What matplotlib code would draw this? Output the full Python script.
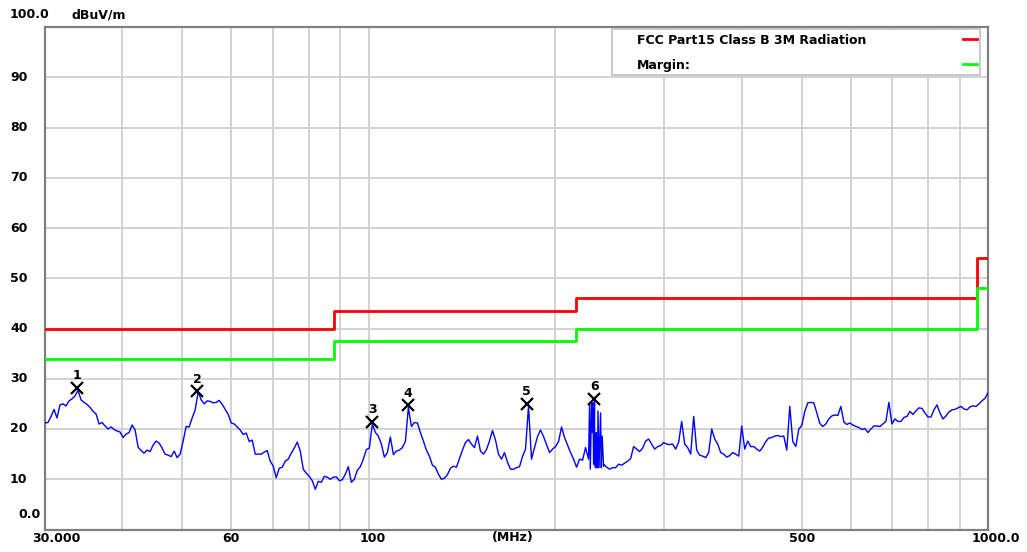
import numpy as np
import matplotlib
matplotlib.use("Agg")
import matplotlib.pyplot as plt
import matplotlib.transforms as mtransforms
from matplotlib.patches import Rectangle
from matplotlib.lines import Line2D

# ---------------- data ----------------
f_start, f_stop = 30.0, 1000.0   # sweep range (MHz), log sweep

trace_levels = [
    # 30 MHz ...
    21.2, 21.3, 22.5, 23.9, 22.2, 24.8, 25.0, 24.6, 25.6, 26.0, 26.6, 27.7, 25.8, 25.3, 24.9,
    24.3, 23.5, 23.0, 21.0, 21.3, 20.6, 20.0, 20.4, 19.9, 19.6, 19.4, 18.3, 19.0, 19.3, 20.8,
    19.8, 16.4, 15.7, 15.2, 15.8, 15.5, 16.8, 17.6, 17.2, 16.2, 15.0, 14.8, 14.5, 15.6, 14.3,
    # ~50 MHz ...
    15.0, 17.6, 20.5, 20.4, 22.2, 23.8, 27.4, 25.8, 25.0, 25.6, 25.5, 25.2, 25.3, 25.7, 24.9,
    23.9, 22.9, 21.2, 21.0, 20.4, 19.8, 18.9, 19.2, 17.5, 17.8, 15.0, 15.0, 15.0, 15.4, 15.7,
    13.6, 12.6, 10.3, 12.2, 12.4, 13.6, 14.0, 15.2, 16.2, 17.4, 15.6, 12.0, 11.2, 10.6, 9.7,
    # ~85 MHz ...
    8.0, 9.6, 9.4, 10.6, 10.4, 10.0, 10.4, 10.5, 9.7, 9.9, 11.0, 12.5, 9.4, 10.0, 11.8,
    12.5, 14.0, 15.9, 16.2, 21.0, 19.3, 18.6, 17.0, 14.4, 15.3, 18.4, 14.9, 15.6, 15.8, 16.3,
    17.5, 24.3, 20.5, 21.3, 21.2, 19.3, 17.6, 15.8, 14.6, 12.8, 12.4, 11.0, 10.0, 10.2, 10.9,
    # ~140 MHz ...
    12.2, 12.6, 12.4, 14.1, 15.8, 17.3, 17.9, 17.0, 16.3, 18.6, 15.6, 15.0, 15.9, 17.6, 19.7,
    17.8, 15.0, 14.0, 15.3, 13.4, 12.0, 12.0, 12.3, 12.5, 14.5, 16.0, 24.5, 14.0, 16.3, 18.5,
    19.8, 18.5, 16.9, 15.3, 16.0, 16.5, 17.5, 20.4, 18.3, 16.8, 15.3, 14.0, 12.4, 14.0, 13.8,
    # ~225 MHz ...
    16.3, 14.0, 25.2, 13.0, 12.3, 23.2, 13.0, 12.4, 12.0, 12.3, 12.3, 13.0, 12.8, 13.2, 13.6,
    14.1, 16.5, 16.0, 15.5, 16.2, 17.6, 18.0, 17.0, 16.0, 16.5, 16.7, 17.3, 17.0, 16.9, 17.0,
    16.0, 17.4, 21.5, 17.0, 16.3, 15.0, 22.5, 15.8, 14.8, 14.6, 14.3, 15.3, 20.0, 18.0, 17.0,
    # ~360 MHz ...
    15.3, 15.0, 14.4, 14.7, 15.3, 15.0, 14.6, 20.6, 16.0, 17.6, 16.5, 16.5, 16.0, 15.6, 16.4,
    17.5, 18.2, 18.3, 18.6, 18.7, 18.5, 18.6, 15.8, 24.5, 17.5, 16.5, 20.0, 20.7, 23.5, 25.2,
    25.3, 25.2, 23.2, 21.1, 20.5, 21.0, 22.0, 22.6, 22.8, 22.7, 24.5, 21.4, 20.9,
    # ~600 MHz ... 1000 MHz
    21.2, 20.8, 20.5, 20.3, 19.9, 20.1, 19.3, 20.0, 20.6, 20.6, 20.5, 21.0, 21.5, 25.3, 21.0,
    22.0, 21.5, 21.5, 22.3, 22.5, 23.5, 22.9, 23.6, 24.2, 24.1, 23.2, 22.4, 22.4, 23.8, 24.8,
    23.2, 22.0, 22.6, 23.4, 23.8, 23.9, 24.2, 24.5, 24.0, 23.8, 24.4, 24.6, 24.5, 25.0, 25.6,
    26.1, 27.2,
]

# narrow comb of spurious lines near marker 6
spike_freqs = [227.3, 227.9, 229.6, 230.2, 230.7, 231.5, 232.4, 233.0, 233.6, 234.5,
               235.4, 237.4, 238.2, 239.4]
spike_levels = [25.2, 12.0, 19.3, 25.2, 13.0, 25.4, 12.3, 19.3, 12.3, 23.6,
                12.3, 12.3, 18.6, 12.6]

limit_freqs = [30, 88, 216, 960, 1000]
limit_levels = [40, 43.5, 46, 54, 54]
margin_levels = [34, 37.5, 40, 48, 48]

marker_ids = ["1", "2", "3", "4", "5", "6"]
marker_freqs = [33.8, 52.8, 101.3, 115.7, 180.0, 231.2]
marker_levels = [28.2, 27.5, 21.4, 24.7, 25.0, 26.0]

y_tick_values = [10, 20, 30, 40, 50, 60, 70, 80, 90]
x_grid_freqs = [40, 50, 60, 70, 80, 90, 100, 200, 300, 400, 500, 600, 700, 800, 900]

legend_labels = ["FCC Part15 Class B 3M Radiation", "Margin:"]
y_unit = "dBuV/m"

# ---------------- figure ----------------
W, H = 1027, 552
fig = plt.figure(figsize=(W / 100, H / 100), dpi=100)
fig.patch.set_facecolor("white")

def fx(px):
    return px / W

def fy(py):
    return 1 - py / H

ax = fig.add_axes([fx(45), fy(529.5), (988 - 45) / W, (529.5 - 27) / H])
ax.set_xscale("log")
ax.set_xlim(f_start, f_stop)
ax.set_ylim(0, 100)
ax.set_xticks([])
ax.set_yticks([])
ax.minorticks_off()
ax.xaxis.set_minor_locator(matplotlib.ticker.NullLocator())
for s in ax.spines.values():
    s.set_color("#808080")
    s.set_linewidth(1.6)

grid_kw = dict(color="#cfcfcf", lw=1.3, zorder=0)
for v in y_tick_values:
    ax.axhline(v, **grid_kw)
for f in x_grid_freqs:
    ax.axvline(f, **grid_kw)

# trace
freqs = np.geomspace(f_start, f_stop, len(trace_levels))
all_f = np.concatenate([freqs, spike_freqs])
all_l = np.concatenate([trace_levels, spike_levels])
order = np.argsort(all_f, kind="stable")
ax.plot(all_f[order], all_l[order], color="#0000ff", lw=1.0, zorder=3)

# limit and margin lines
ax.plot(limit_freqs, limit_levels, drawstyle="steps-post", color="#ff0000", lw=2.0, zorder=4)
ax.plot(limit_freqs, margin_levels, drawstyle="steps-post", color="#00ff00", lw=2.0, zorder=4)

# markers
txt = dict(fontsize=9, fontweight="bold", family="DejaVu Sans", color="black")
ax.plot(marker_freqs, marker_levels, ls="none", marker="x", ms=8, mew=1.6,
        color="black", zorder=6)
for mid, mf, ml in zip(marker_ids, marker_freqs, marker_levels):
    ax.annotate(mid, (mf, ml), xytext=(0, 12), textcoords="offset pixels",
                ha="center", va="center", zorder=7, **txt)

# y labels
ty = mtransforms.blended_transform_factory(fig.transFigure, ax.transData)
for v in y_tick_values:
    ax.text(fx(10), v, str(v), transform=ty, ha="left", va="center", clip_on=False, **txt)
fig.text(fx(18), fy(514), "0.0", ha="left", va="center", **txt)
fig.text(fx(10), fy(15), "100.0", ha="left", va="center", **txt)
fig.text(fx(72), fy(15), y_unit, ha="left", va="center", **txt)

# x labels
xl_y = fy(538)
fig.text(fx(32), xl_y, "30.000", ha="left", va="center", **txt)
fig.text(fx(231), xl_y, "60", ha="center", va="center", **txt)
fig.text(fx(373), xl_y, "100", ha="center", va="center", **txt)
fig.text(fx(513), xl_y, "(MHz)", ha="center", va="center", **txt)
fig.text(fx(802), xl_y, "500", ha="center", va="center", **txt)
fig.text(fx(996), xl_y, "1000.0", ha="center", va="center", **txt)

# legend box
box = Rectangle((fx(612), fy(75)), (980 - 612) / W, (75 - 29) / H,
                transform=fig.transFigure, facecolor="white", edgecolor="#c0c0c0",
                lw=1.2, zorder=8, clip_on=False)
ax.add_patch(box)
ax.text(fx(637), fy(40), legend_labels[0], transform=fig.transFigure, ha="left",
        va="center", zorder=9, **txt)
ax.text(fx(637), fy(65), legend_labels[1], transform=fig.transFigure, ha="left",
        va="center", zorder=9, **txt)
for yy, c in [(39, "#ff0000"), (64, "#00ff00")]:
    ln = Line2D([fx(963), fx(977)], [fy(yy), fy(yy)], transform=fig.transFigure,
                color=c, lw=2.0, zorder=9)
    ln.set_clip_on(False)
    ax.add_line(ln)

fig.savefig("out.png", dpi=100, facecolor="white")
